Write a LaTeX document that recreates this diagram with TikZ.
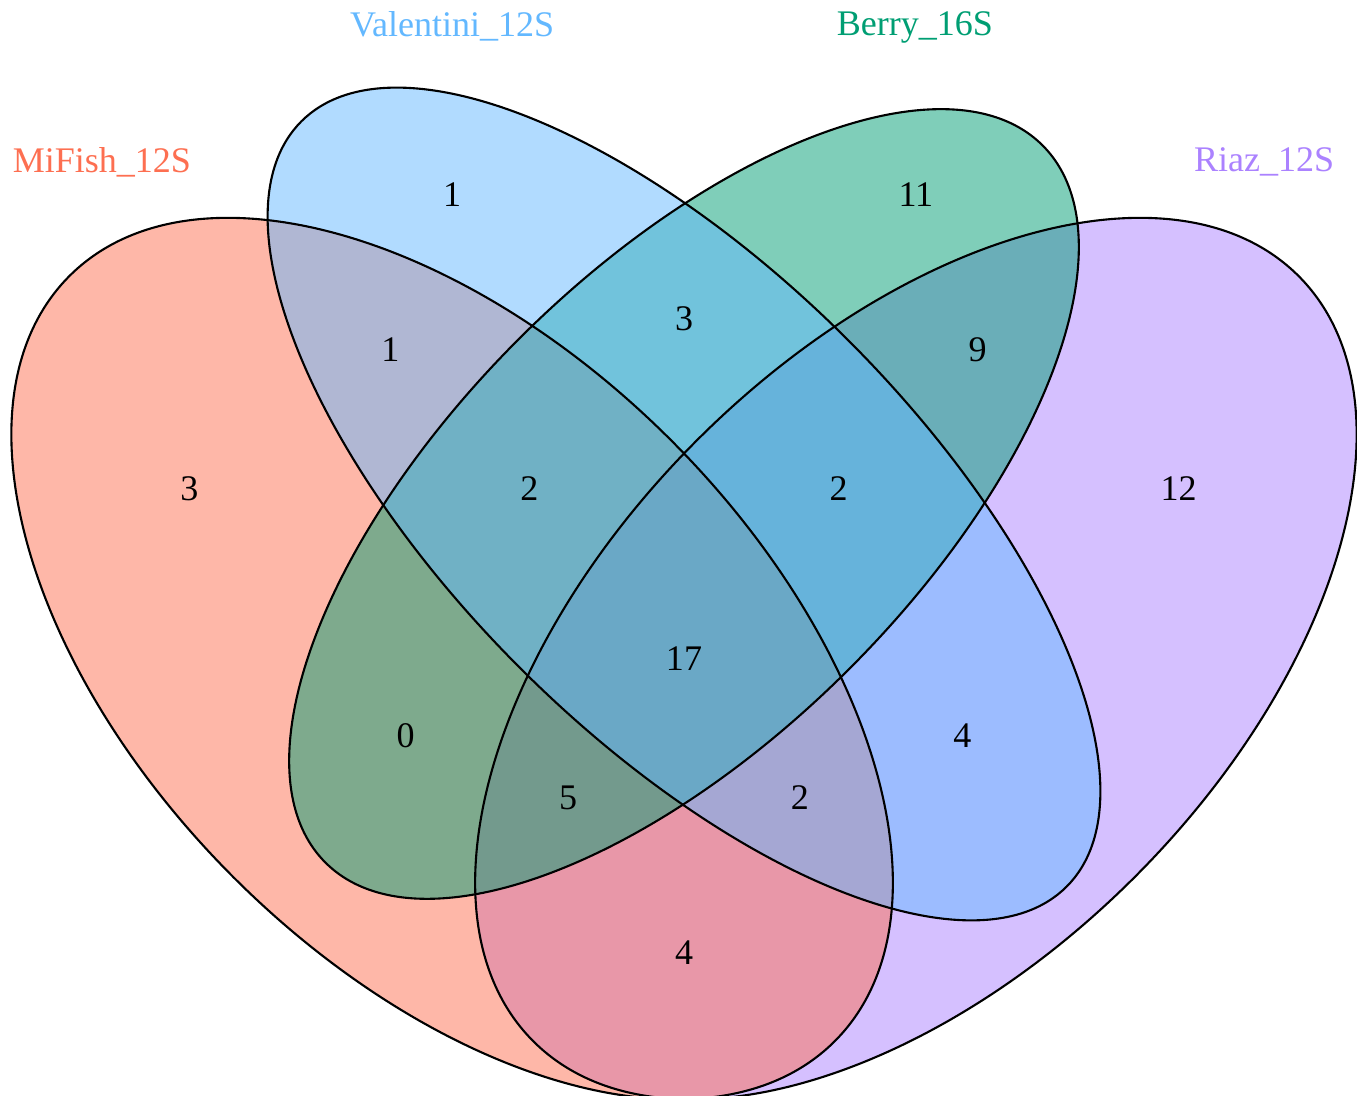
\documentclass[tikz,border=0pt]{standalone}
\usepackage{fontspec}
\setmainfont{Liberation Serif}
\usepackage{xcolor}
\usepackage{tikz}

\definecolor{mifish}{RGB}{253,111,81}
\definecolor{valentini}{RGB}{99,184,255}
\definecolor{berry}{RGB}{0,158,115}
\definecolor{riaz}{RGB}{171,130,255}

\begin{document}
\begin{tikzpicture}[x=15.46cm, y=15.46cm,
    every node/.style={font=\fontsize{10.25}{12}\selectfont},
    setline/.style={draw=black, line width=0.6pt}]
            \useasboundingbox (0.05757,0.18772) rectangle (0.93532,0.896);
            % fills first, then the outlines
            \foreach \cx/\cy/\a/\b/\r/\c in {0.65/0.47/0.35/0.2/45/riaz,
                0.35/0.47/0.35/0.2/135/mifish, 0.5/0.57/0.328/0.151/45/berry,
                0.5/0.57/0.35/0.15/135/valentini}
            \fill[fill=\c, fill opacity=0.5, rotate around={\r:(\cx,\cy)}]
            (\cx,\cy) ellipse [x radius=\a, y radius=\b];
            \foreach \cx/\cy/\a/\b/\r in {0.65/0.47/0.35/0.2/45,
                0.35/0.47/0.35/0.2/135, 0.5/0.57/0.328/0.151/45,
                0.5/0.57/0.35/0.15/135}
            \draw[setline, rotate around={\r:(\cx,\cy)}]
            (\cx,\cy) ellipse [x radius=\a, y radius=\b];
            \foreach \x/\y/\n/\name in {0.18/0.58/3/m, 0.35/0.77/1/v,
                0.65/0.77/11/b, 0.82/0.58/12/r, 0.31/0.67/1/mv,
                0.5/0.69/3/vb, 0.69/0.67/9/br, 0.40/0.58/2/mvb,
                0.60/0.58/2/vbr, 0.5/0.47/17/mvbr, 0.32/0.42/0/mb,
                0.68/0.42/4/vr, 0.425/0.38/5/mbr, 0.575/0.38/2/mvr,
                0.5/0.28/4/mr}
            \node (\name) at (\x,\y) {\n};
            \node[text=mifish] (mifishlabel) at (0.1235,0.7912) {MiFish\_12S};%
            \node[text=valentini] (valentinilabel) at (0.35,0.8792) {Valentini\_12S};%
            \node[text=berry] (berrylabel) at (0.6494,0.8785) {Berry\_16S};%
            \node[text=riaz] (riazlabel) at (0.8752,0.7912) {Riaz\_12S};%
      \end{tikzpicture}
\end{document}
